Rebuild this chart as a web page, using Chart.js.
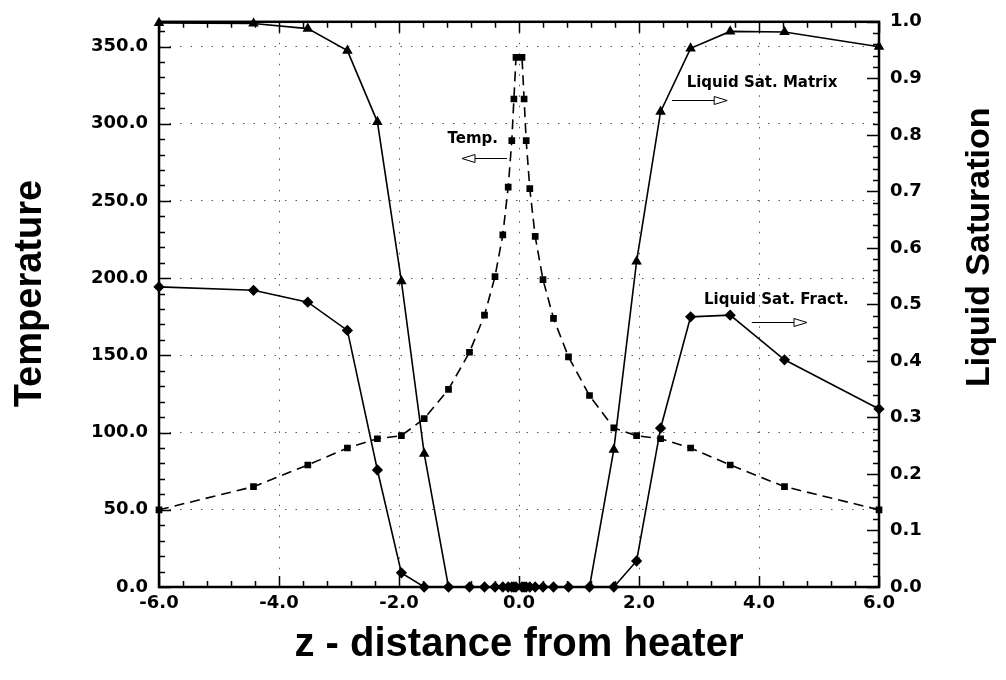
<!DOCTYPE html>
<html>
<head>
<meta charset="utf-8">
<script src="https://cdn.jsdelivr.net/npm/chart.js@4.4.1/dist/chart.umd.min.js"></script>
<style>
  body { margin: 0; background: #fff; }
  #wrap { width: 1006px; height: 680px; }
</style>
</head>
<body>
<div id="wrap"><canvas id="chart" width="1006" height="680"></canvas></div>
<script>
// z positions (distance from heater)
const zPos = [-6.0, -4.425, -3.52, -2.86, -2.36, -1.96, -1.58, -1.175, -0.825, -0.575, -0.40, -0.27, -0.18, -0.12, -0.085, -0.05,
  0.05, 0.085, 0.12, 0.18, 0.27, 0.40, 0.575, 0.825, 1.175, 1.58, 1.96, 2.36, 2.86, 3.52, 4.425, 6.0];

const temperature = [50, 65, 79, 90, 96, 98, 109, 128, 152, 176, 201, 228, 259, 289, 316, 343,
  343, 316, 289, 258, 227, 199, 174, 149, 124, 103, 98, 96, 90, 79, 65, 50];

const satMatrix = [0.998, 0.997, 0.988, 0.949, 0.823, 0.541, 0.236, 0, 0, 0, 0, 0, 0, 0, 0, 0,
  0, 0, 0, 0, 0, 0, 0, 0, 0, 0.243, 0.576, 0.841, 0.953, 0.983, 0.982, 0.956];

const satFract = [0.531, 0.525, 0.504, 0.454, 0.207, 0.025, 0, 0, 0, 0, 0, 0, 0, 0, 0, 0,
  0, 0, 0, 0, 0, 0, 0, 0, 0, 0, 0.046, 0.281, 0.478, 0.481, 0.402, 0.315];

// labels with arrows, in data units (x, value on the given axis)
const notes = [
  { text: "Temp.", axis: "y", x: -0.77, y: 290, from: -0.2, to: -0.95, ay: 278 },
  { text: "Liquid Sat. Matrix", axis: "y1", x: 4.05, y: 0.892, from: 2.55, to: 3.47, ay: 0.861 },
  { text: "Liquid Sat. Fract.", axis: "y1", x: 4.29, y: 0.508, from: 3.88, to: 4.8, ay: 0.469 }
];

const pts = (vals) => vals.map((v, i) => ({ x: zPos[i], y: v }));
const tickFont = { family: "DejaVu Sans", weight: "bold", size: 18 };

// inward ticks, frame, side titles and the arrow labels
const framePlugin = {
  id: "frame",
  afterDraw(chart) {
    const { ctx, chartArea: a, scales } = chart;
    const { x, y, y1 } = scales;
    ctx.save();
    ctx.strokeStyle = "#000";
    ctx.lineWidth = 1.5;
    ctx.beginPath();
    for (let v = -6; v <= 6.001; v += 0.4) {
      const px = Math.round(x.getPixelForValue(v)) + 0.5;
      const major = Math.abs(v / 2 - Math.round(v / 2)) < 0.01;
      const len = major ? 11 : 6;
      ctx.moveTo(px, a.bottom); ctx.lineTo(px, a.bottom - len);
      ctx.moveTo(px, a.top); ctx.lineTo(px, a.top + len);
    }
    for (let v = 0; v <= 366; v += 10) {
      const py = Math.round(y.getPixelForValue(v)) + 0.5;
      const len = v % 50 === 0 ? 12 : 6;
      ctx.moveTo(a.left, py); ctx.lineTo(a.left + len, py);
    }
    for (let k = 0; k <= 50; k++) {
      const py = Math.round(y1.getPixelForValue(k / 50)) + 0.5;
      const len = k % 5 === 0 ? 12 : 6;
      ctx.moveTo(a.right, py); ctx.lineTo(a.right - len, py);
    }
    ctx.stroke();
    ctx.lineWidth = 2.5;
    ctx.strokeRect(a.left, a.top, a.right - a.left, a.bottom - a.top);

    ctx.fillStyle = "#000";
    ctx.textAlign = "center";
    ctx.textBaseline = "middle";

    // side titles
    ctx.font = "bold 38px 'Liberation Sans'";
    ctx.save();
    ctx.translate(31, y.getPixelForValue(190));
    ctx.rotate(-Math.PI / 2);
    ctx.fillText("Temperature", 0, 0);
    ctx.restore();
    ctx.font = "bold 34px 'Liberation Sans'";
    ctx.save();
    ctx.translate(980, y1.getPixelForValue(0.601));
    ctx.rotate(-Math.PI / 2);
    ctx.fillText("Liquid Saturation", 0, 0);
    ctx.restore();

    ctx.font = "bold 15px 'DejaVu Sans'";
    notes.forEach(n => {
      const ys = scales[n.axis];
      ctx.fillText(n.text, x.getPixelForValue(n.x), ys.getPixelForValue(n.y));
      const x0 = x.getPixelForValue(n.from), x1 = x.getPixelForValue(n.to);
      const py = Math.round(ys.getPixelForValue(n.ay)) + 0.5;
      const dir = Math.sign(x1 - x0);
      const head = 13;
      ctx.lineWidth = 1;
      ctx.beginPath();
      ctx.moveTo(x0, py); ctx.lineTo(x1 - dir * head, py);
      ctx.stroke();
      ctx.beginPath();
      ctx.moveTo(x1, py);
      ctx.lineTo(x1 - dir * head, py - 4);
      ctx.lineTo(x1 - dir * head, py + 4);
      ctx.closePath();
      ctx.fillStyle = "#fff";
      ctx.fill();
      ctx.stroke();
      ctx.fillStyle = "#000";
    });
    ctx.restore();
  }
};

new Chart(document.getElementById("chart"), {
  type: "line",
  data: {
    datasets: [
      {
        label: "Temp.",
        data: pts(temperature),
        yAxisID: "y",
        borderColor: "#000",
        backgroundColor: "#000",
        borderWidth: 1.6,
        borderDash: [10, 6],
        pointStyle: "rect",
        pointRadius: 3.6,
        clip: false
      },
      {
        label: "Liquid Sat. Matrix",
        data: pts(satMatrix),
        yAxisID: "y1",
        borderColor: "#000",
        backgroundColor: "#000",
        borderWidth: 1.6,
        pointStyle: "triangle",
        pointRadius: (c) => (c.raw && c.raw.y === 0 ? 0 : 4.5),
        clip: false
      },
      {
        label: "Liquid Sat. Fract.",
        data: pts(satFract),
        yAxisID: "y1",
        borderColor: "#000",
        backgroundColor: "#000",
        borderWidth: 1.6,
        pointStyle: "rectRot",
        pointRadius: 4.5,
        clip: false
      }
    ]
  },
  options: {
    responsive: false,
    animation: false,
    devicePixelRatio: 1,
    layout: { padding: { top: 16, left: 0, right: 0, bottom: 0 } },
    plugins: { legend: { display: false }, tooltip: { enabled: false } },
    scales: {
      x: {
        type: "linear",
        min: -6,
        max: 6,
        afterFit: (s) => { s.height = 93; },
        ticks: {
          stepSize: 2,
          color: "#000",
          font: tickFont,
          padding: 6,
          callback: (v) => v.toFixed(1)
        },
        grid: {
          drawTicks: false,
          color: (c) => (c.tick && Math.abs(c.tick.value) === 6 ? "rgba(0,0,0,0)" : "#555")
        },
        border: { display: false, dash: [1.5, 9] },
        title: { display: true, text: "z - distance from heater", color: "#000", font: { family: "Liberation Sans", weight: "bold", size: 40 }, padding: { bottom: 11 } }
      },
      y: {
        position: "left",
        min: 0,
        max: 366,
        afterFit: (s) => { s.width = 159; },
        ticks: {
          stepSize: 50,
          includeBounds: false,
          color: "#000",
          font: tickFont,
          padding: 11,
          callback: (v) => v.toFixed(1)
        },
        grid: {
          drawTicks: false,
          color: (c) => (c.tick && c.tick.value === 0 ? "rgba(0,0,0,0)" : "#555")
        },
        border: { display: false, dash: [1.5, 9] }
      },
      y1: {
        position: "right",
        min: 0,
        max: 1,
        afterFit: (s) => { s.width = 127; },
        ticks: {
          stepSize: 0.1,
          color: "#000",
          font: tickFont,
          padding: 11,
          callback: (v) => v.toFixed(1)
        },
        grid: { drawOnChartArea: false, drawTicks: false },
        border: { display: false }
      }
    }
  },
  plugins: [framePlugin]
});
</script>
</body>
</html>
